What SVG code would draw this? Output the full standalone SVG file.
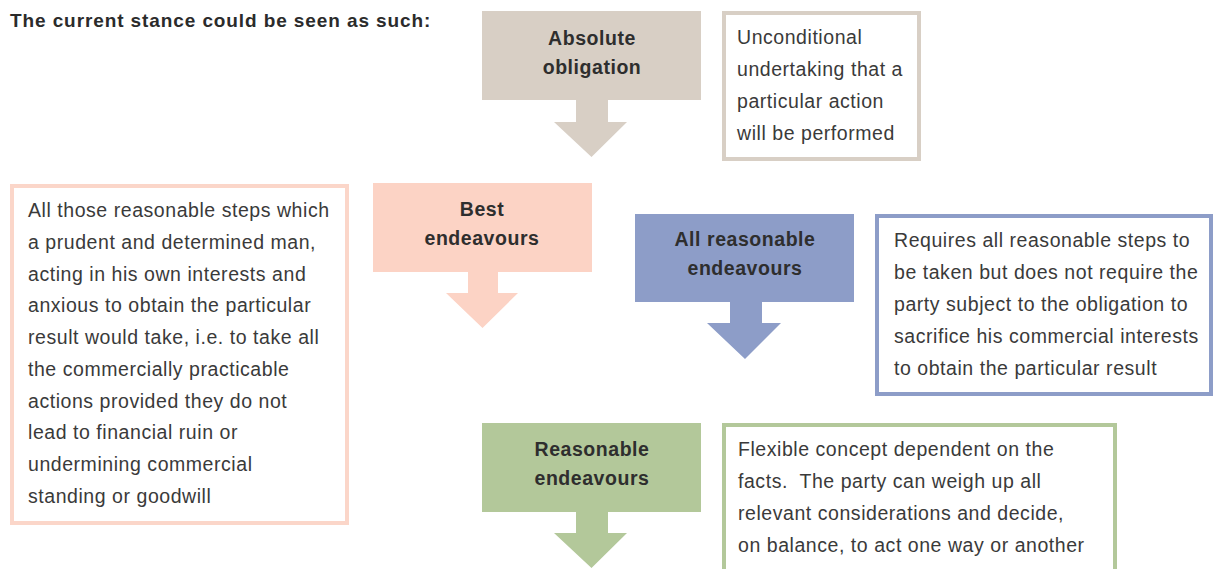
<svg xmlns="http://www.w3.org/2000/svg" width="1214" height="569" viewBox="0 0 1214 569">
<style>
.title{font-family:"Liberation Sans",Arial,sans-serif;font-weight:bold;font-size:19px;letter-spacing:0.9px;fill:#2b2b2b}
.lbl{font-family:"Liberation Sans",Arial,sans-serif;font-weight:bold;font-size:19.5px;letter-spacing:0.55px;fill:#2e2e2e;text-anchor:middle}
.txt{font-family:"Liberation Sans",Arial,sans-serif;font-size:19.5px;letter-spacing:0.55px;fill:#3a3a3a}
.gray{fill:#d8cfc5}.pink{fill:#fcd3c5}.blue{fill:#8d9dc8}.green{fill:#b3c89a}
.bx{fill:#fff;stroke-width:4}
</style>
<rect width="1214" height="569" fill="#fff"/>
<text class="title" x="10" y="27">The current stance could be seen as such:</text>

<g id="connectors">
<polygon class="gray" points="576,99 608,99 608,122 627,122 591.5,157 554,122 576,122"/>
<polygon class="pink" points="468,271 498,271 498,293 518,293 482.5,328 446,293 468,293"/>
<polygon class="blue" points="730,301 762,301 762,323 781,323 745,359 707,323 730,323"/>
<polygon class="green" points="576,510 608,510 608,533 627,533 591.5,568 554,533 576,533"/>
</g>

<g id="absolute">
<rect class="gray" x="482" y="11" width="219" height="89"/>
<text class="lbl" x="592" y="45">Absolute</text>
<text class="lbl" x="592" y="74">obligation</text>
</g>
<g id="absolute-desc">
<rect class="bx" x="724" y="13" width="195" height="146" stroke="#d8cfc5"/>
<text class="txt" x="737" y="44">Unconditional</text>
<text class="txt" x="737" y="76">undertaking that a</text>
<text class="txt" x="737" y="108">particular action</text>
<text class="txt" x="737" y="140">will be performed</text>
</g>

<g id="best">
<rect class="pink" x="373" y="183" width="219" height="89"/>
<text class="lbl" x="482" y="216">Best</text>
<text class="lbl" x="482" y="245">endeavours</text>
</g>
<g id="best-desc">
<rect class="bx" x="12" y="186" width="335" height="337" stroke="#fbd6c9"/>
<text class="txt" x="28" y="217">All those reasonable steps which</text>
<text class="txt" x="28" y="249">a prudent and determined man,</text>
<text class="txt" x="28" y="281">acting in his own interests and</text>
<text class="txt" x="28" y="312">anxious to obtain the particular</text>
<text class="txt" x="28" y="344">result would take, i.e. to take all</text>
<text class="txt" x="28" y="376">the commercially practicable</text>
<text class="txt" x="28" y="408">actions provided they do not</text>
<text class="txt" x="28" y="439">lead to financial ruin or</text>
<text class="txt" x="28" y="471">undermining commercial</text>
<text class="txt" x="28" y="503">standing or goodwill</text>
</g>

<g id="all-reasonable">
<rect class="blue" x="635" y="214" width="219" height="88"/>
<text class="lbl" x="745" y="246">All reasonable</text>
<text class="lbl" x="745" y="275">endeavours</text>
</g>
<g id="all-reasonable-desc">
<rect class="bx" x="877" y="216" width="334" height="178" stroke="#8d9dc8"/>
<text class="txt" x="894" y="247">Requires all reasonable steps to</text>
<text class="txt" x="894" y="279">be taken but does not require the</text>
<text class="txt" x="894" y="311">party subject to the obligation to</text>
<text class="txt" x="894" y="343">sacrifice his commercial interests</text>
<text class="txt" x="894" y="375">to obtain the particular result</text>
</g>

<g id="reasonable">
<rect class="green" x="482" y="423" width="219" height="89"/>
<text class="lbl" x="592" y="456">Reasonable</text>
<text class="lbl" x="592" y="485">endeavours</text>
</g>
<g id="reasonable-desc">
<rect class="bx" x="724" y="425" width="391" height="160" stroke="#b3c89a"/>
<text class="txt" x="738" y="456">Flexible concept dependent on the</text>
<text class="txt" x="738" y="488" xml:space="preserve">facts.  The party can weigh up all</text>
<text class="txt" x="738" y="520">relevant considerations and decide,</text>
<text class="txt" x="738" y="552">on balance, to act one way or another</text>
</g>
</svg>
